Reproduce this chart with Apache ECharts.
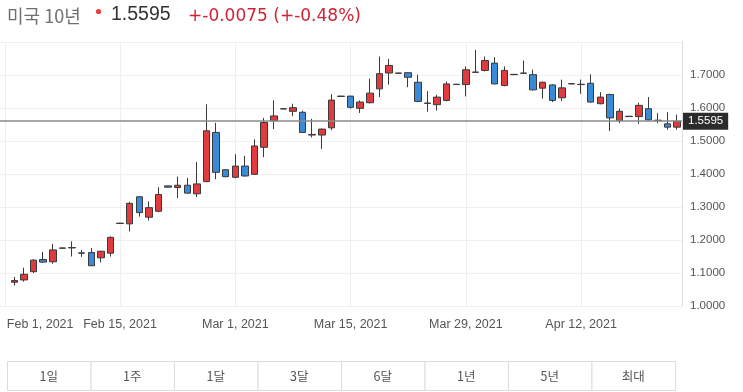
<!DOCTYPE html>
<html><head><meta charset="utf-8">
<script src="https://cdn.jsdelivr.net/npm/echarts@6/dist/echarts.min.js"></script>
<style>html,body{margin:0;padding:0;background:#fff}#c{width:743px;height:392px}</style>
</head><body><div id="c"></div>
<script>
const dates = [
'2021-02-01','2021-02-02','2021-02-03','2021-02-04','2021-02-05','2021-02-07',
'2021-02-08','2021-02-09','2021-02-10','2021-02-11','2021-02-12','2021-02-14',
'2021-02-15','2021-02-16','2021-02-17','2021-02-18','2021-02-19','2021-02-21',
'2021-02-22','2021-02-23','2021-02-24','2021-02-25','2021-02-26','2021-02-28',
'2021-03-01','2021-03-02','2021-03-03','2021-03-04','2021-03-05','2021-03-07',
'2021-03-08','2021-03-09','2021-03-10','2021-03-11','2021-03-12','2021-03-14',
'2021-03-15','2021-03-16','2021-03-17','2021-03-18','2021-03-19','2021-03-21',
'2021-03-22','2021-03-23','2021-03-24','2021-03-25','2021-03-26','2021-03-28',
'2021-03-29','2021-03-30','2021-03-31','2021-04-01','2021-04-02','2021-04-04',
'2021-04-05','2021-04-06','2021-04-07','2021-04-08','2021-04-09','2021-04-11',
'2021-04-12','2021-04-13','2021-04-14','2021-04-15','2021-04-16','2021-04-18',
'2021-04-19','2021-04-20','2021-04-21','2021-04-22','2021-04-23'];
const opens = [null,1.072,1.079,1.104,1.141,1.134,1.175,1.177,1.161,1.162,1.146,1.160,1.250,1.249,1.331,1.269,1.287,1.364,1.359,1.366,1.340,1.377,1.526,1.413,1.390,1.424,1.399,1.481,1.562,1.597,1.590,1.587,1.520,1.518,1.540,1.635,1.636,1.599,1.616,1.658,1.706,1.706,1.707,1.678,1.615,1.610,1.623,1.671,1.671,1.709,1.714,1.736,1.668,1.701,1.706,1.701,1.660,1.670,1.631,1.673,1.672,1.675,1.613,1.641,1.562,1.574,1.574,1.598,1.563,1.552,1.542];
const closes = [null,1.077,1.096,1.139,1.133,1.170,1.176,1.176,1.160,1.122,1.166,1.208,1.251,1.311,1.283,1.298,1.338,1.360,1.366,1.342,1.370,1.531,1.405,1.392,1.424,1.394,1.485,1.556,1.576,1.598,1.601,1.526,1.518,1.536,1.624,1.636,1.602,1.618,1.645,1.704,1.729,1.705,1.693,1.620,1.614,1.633,1.673,1.672,1.716,1.708,1.744,1.673,1.714,1.702,1.705,1.655,1.678,1.623,1.661,1.674,1.671,1.618,1.633,1.570,1.590,1.575,1.608,1.564,1.562,1.542,1.5595];
const lows = [null,1.062,1.074,1.100,1.131,1.128,1.174,1.150,1.149,1.121,1.132,1.150,1.249,1.226,1.271,1.259,1.284,1.359,1.327,1.341,1.330,1.375,1.384,1.390,1.387,1.392,1.397,1.451,1.536,1.596,1.575,1.525,1.511,1.476,1.533,1.634,1.598,1.585,1.614,1.633,1.671,1.704,1.663,1.618,1.589,1.592,1.620,1.670,1.635,1.707,1.711,1.672,1.666,1.700,1.704,1.653,1.628,1.618,1.621,1.672,1.643,1.616,1.611,1.530,1.554,1.573,1.552,1.562,1.554,1.534,1.534];
const highs = [null,1.088,1.116,1.142,1.164,1.188,1.177,1.196,1.170,1.176,1.167,1.211,1.252,1.316,1.333,1.317,1.360,1.365,1.392,1.388,1.436,1.611,1.555,1.415,1.460,1.455,1.505,1.570,1.623,1.599,1.613,1.592,1.567,1.538,1.642,1.637,1.637,1.623,1.689,1.756,1.749,1.707,1.708,1.701,1.651,1.640,1.680,1.673,1.726,1.776,1.756,1.754,1.726,1.703,1.744,1.716,1.680,1.672,1.686,1.675,1.686,1.702,1.648,1.643,1.598,1.576,1.616,1.633,1.584,1.587,1.580];
const xLabelDates = ['2021-02-01','2021-02-15','2021-03-01','2021-03-15','2021-03-29','2021-04-12'];
const lastPrice = 1.5595;
const titleName = '미국 10년';
const changeText = '+-0.0075 (+-0.48%)';
const rangeButtons = ['1일','1주','1달','3달','6달','1년','5년','최대'];
const monthNames = ['Jan','Feb','Mar','Apr','May','Jun','Jul','Aug','Sep','Oct','Nov','Dec'];

function fmtDate(d){
  const p = d.split('-');
  return monthNames[+p[1]-1] + ' ' + (+p[2]) + ', ' + p[0];
}
const candleData = dates.map((d,i) => opens[i] == null ? ['-','-','-','-'] : [opens[i], closes[i], lows[i], highs[i]]);

const chart = echarts.init(document.getElementById('c'), null, {renderer:'canvas'});
const btnW = 83.5, btnX = 7, btnY = 361, btnH = 29;
const graphics = [
  {type:'text', left:7, top:7, style:{text:titleName, font:'18px "Noto Sans CJK KR"', fill:'#707070'}},
  {type:'circle', shape:{cx:98.5, cy:11.5, r:2.6}, style:{fill:'#e8413a'}},
  {type:'text', left:111, top:5, style:{text:lastPrice.toFixed(4), font:'19.5px "Liberation Sans", Arial', fill:'#333'}},
  {type:'text', left:188, top:8, style:{text:changeText, font:'17px "DejaVu Sans"', fill:'#cf2233'}}
];
rangeButtons.forEach((b,i) => {
  graphics.push({type:'rect', shape:{x:btnX + btnW*i + 0.5, y:btnY + 0.5, width:btnW, height:btnH}, style:{fill:'#fff', stroke:'#dcdcdc', lineWidth:1}});
  graphics.push({type:'text', x:btnX + btnW*(i+0.5), y:btnY + btnH/2 + 0.5, style:{text:b, font:'12.5px "Noto Sans CJK KR"', fill:'#555', align:'center', verticalAlign:'middle'}});
});

chart.setOption({
  animation:false,
  backgroundColor:'#fff',
  grid:{left:-3.66, right:61, top:42, bottom:86},
  xAxis:{
    type:'category', data:dates, boundaryGap:true,
    axisLine:{show:false}, axisTick:{show:false},
    axisLabel:{
      interval:(idx, v) => xLabelDates.includes(v),
      formatter:(v) => v === dates[0] ? '{f|' + fmtDate(v) + '}' : fmtDate(v),
      rich:{f:{padding:[0,0,0,2], fontSize:12.5, color:'#555', fontFamily:'"Liberation Sans", Arial'}},
      alignMinLabel:'left',
      color:'#555', fontSize:12.5, fontFamily:'"Liberation Sans", Arial', margin:12
    },
    splitLine:{show:true, alignWithLabel:true, interval:(idx, v) => xLabelDates.includes(v), lineStyle:{color:'#efefef', width:1}}
  },
  yAxis:{
    type:'value', position:'right', min:1.0, max:1.8, interval:0.1, scale:true,
    axisLine:{show:true, lineStyle:{color:'#dedede'}}, axisTick:{show:false},
    axisLabel:{showMaxLabel:false, formatter:(v) => v.toFixed(4), color:'#555', fontSize:11.5, fontFamily:'"Liberation Sans", Arial', margin:8},
    splitLine:{show:true, lineStyle:{color:'#f0f0f0', width:1}}
  },
  series:[{
    type:'candlestick', data:candleData, barWidth:7, z:3,
    itemStyle:{color:'#e03b3e', color0:'#3a8ad8', borderColor:'#3a3a3a', borderColor0:'#3a3a3a', borderWidth:1},
    markLine:{
      silent:true, symbol:['none','none'], z:5,
      lineStyle:{color:'#8a8a8a', width:1.5, type:'solid'},
      label:{show:true, position:'end', distance:1, formatter:() => lastPrice.toFixed(4), color:'#fff', backgroundColor:'#2b2b2b', padding:[3,5,2,5], fontSize:11.5, fontFamily:'"Liberation Sans", Arial'},
      data:[{yAxis:lastPrice}]
    }
  }],
  graphic:graphics
});
</script></body></html>
